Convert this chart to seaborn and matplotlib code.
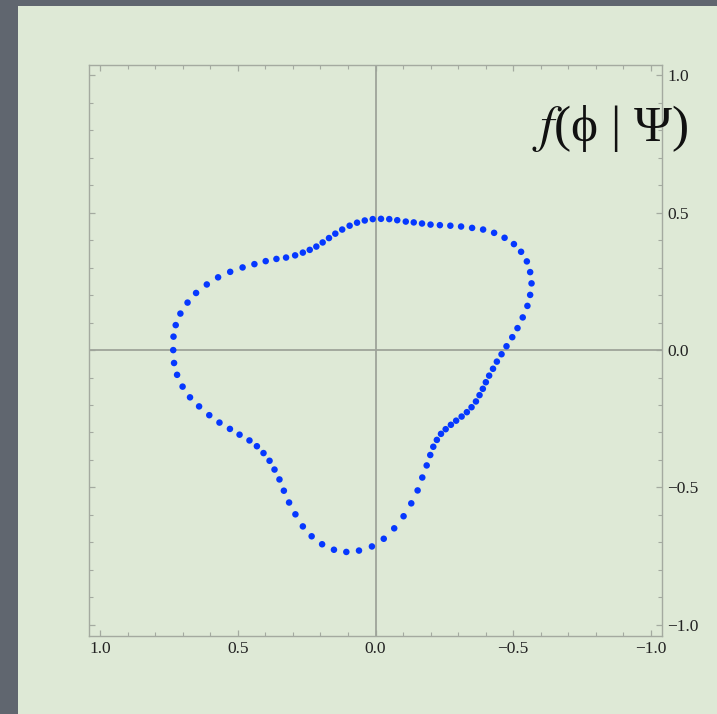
import matplotlib
matplotlib.use("Agg")
import matplotlib.pyplot as plt
from matplotlib.patches import Rectangle
from matplotlib.ticker import MultipleLocator, FixedLocator, FixedFormatter
import seaborn as sns
import pandas as pd

# Sampled points of the closed curve f(phi|Psi)
x_vals = [0.735, 0.734, 0.726, 0.709, 0.683, 0.652, 0.613, 0.572, 0.528, 0.483,
          0.440, 0.399, 0.360, 0.325, 0.292, 0.264, 0.239, 0.215, 0.192, 0.169,
          0.146, 0.121, 0.094, 0.067, 0.039, 0.010, -0.020, -0.050, -0.079, -0.110,
          -0.139, -0.169, -0.200, -0.234, -0.272, -0.311, -0.351, -0.391, -0.431, -0.469,
          -0.503, -0.529, -0.550, -0.562, -0.567, -0.562, -0.552, -0.535, -0.516, -0.497,
          -0.476, -0.458, -0.441, -0.427, -0.413, -0.401, -0.390, -0.378, -0.365, -0.349,
          -0.332, -0.313, -0.293, -0.274, -0.255, -0.238, -0.223, -0.210, -0.199, -0.186,
          -0.170, -0.153, -0.130, -0.102, -0.068, -0.030, 0.013, 0.060, 0.106, 0.151,
          0.194, 0.232, 0.264, 0.291, 0.314, 0.333, 0.349, 0.367, 0.385, 0.407,
          0.431, 0.458, 0.494, 0.529, 0.567, 0.604, 0.641, 0.674, 0.701, 0.721,
          0.732]
y_vals = [0.000, 0.049, 0.091, 0.133, 0.173, 0.208, 0.239, 0.265, 0.285, 0.301,
          0.313, 0.324, 0.332, 0.337, 0.345, 0.355, 0.365, 0.377, 0.392, 0.408,
          0.424, 0.439, 0.453, 0.464, 0.472, 0.477, 0.478, 0.477, 0.473, 0.468,
          0.465, 0.461, 0.457, 0.455, 0.453, 0.450, 0.445, 0.439, 0.427, 0.409,
          0.386, 0.358, 0.323, 0.284, 0.243, 0.201, 0.161, 0.119, 0.080, 0.047,
          0.014, -0.015, -0.042, -0.068, -0.093, -0.117, -0.141, -0.164, -0.187, -0.208,
          -0.226, -0.242, -0.257, -0.272, -0.288, -0.305, -0.327, -0.352, -0.382, -0.420,
          -0.464, -0.511, -0.558, -0.605, -0.649, -0.687, -0.715, -0.730, -0.735, -0.727,
          -0.707, -0.678, -0.642, -0.598, -0.555, -0.512, -0.471, -0.435, -0.403, -0.375,
          -0.350, -0.329, -0.308, -0.287, -0.264, -0.237, -0.205, -0.172, -0.133, -0.090,
          -0.047]

tick_values = [1.0, 0.5, 0.0, -0.5, -1.0]
tick_labels = ["1.0", "0.5", "0.0", "\u22120.5", "\u22121.0"]
title_text = "$f$(\u03d5 | \u03a8)"

df = pd.DataFrame({"x": x_vals, "y": y_vals})

sns.set_style("ticks")
plt.rcParams["font.family"] = ["Liberation Serif", "DejaVu Serif"]
plt.rcParams["mathtext.fontset"] = "stix"

W, H = 717, 714
fig = plt.figure(figsize=(W / 100, H / 100), dpi=100)
fig.patch.set_facecolor("#60666f")

# light green slide panel
panel_color = "#dee9d6"
fig.add_artist(Rectangle((18 / W, 0), 1 - 18 / W, (H - 6) / H,
                         transform=fig.transFigure, facecolor=panel_color,
                         edgecolor="none", zorder=0))

ax = fig.add_axes([89.3 / W, (H - 635.7) / H, (661.7 - 89.3) / W, (635.7 - 64.5) / H])
ax.set_facecolor(panel_color)

frame_color = "#a4aaa0"
ax.axhline(0, color="#9ea49a", lw=1.3, zorder=1)
ax.axvline(0, color="#9ea49a", lw=1.3, zorder=1)

sns.scatterplot(data=df, x="x", y="y", ax=ax, s=22, color="#0638ff",
                edgecolor="none", linewidth=0, zorder=3)

ax.set_xlim(1.04, -1.04)
ax.set_ylim(-1.04, 1.04)
ax.set_xlabel("")
ax.set_ylabel("")

for axis in (ax.xaxis, ax.yaxis):
    axis.set_major_locator(FixedLocator(tick_values))
    axis.set_major_formatter(FixedFormatter(tick_labels))
    axis.set_minor_locator(MultipleLocator(0.1))

ax.tick_params(which="both", direction="in", top=True, bottom=True,
               left=True, right=True, labelleft=False, labelright=True,
               labelbottom=True, labeltop=False, color=frame_color,
               labelcolor="#222222", labelsize=12.5)
ax.tick_params(which="major", length=4.5, width=0.9, pad=4)
ax.tick_params(which="minor", length=3, width=0.8)

for sp in ax.spines.values():
    sp.set_color(frame_color)
    sp.set_linewidth(1.0)

fig.text(610 / W, (H - 128) / H, title_text, fontsize=37, color="#111111",
         family=["Liberation Serif", "STIXGeneral"], ha="center", va="center")

fig.savefig("out.png", dpi=100, facecolor=fig.get_facecolor())
